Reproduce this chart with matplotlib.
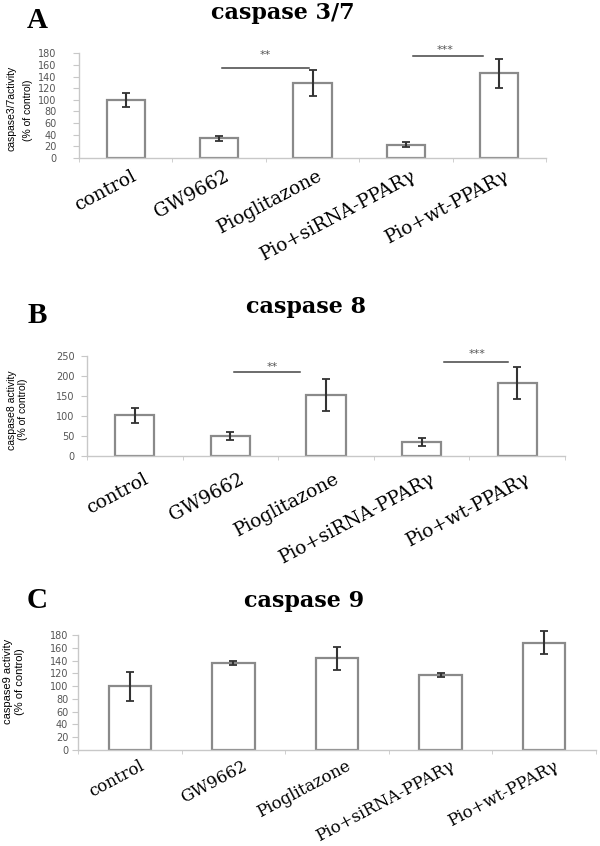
import matplotlib
matplotlib.use("Agg")
import matplotlib.pyplot as plt
import matplotlib.transforms as mtransforms
import numpy as np

groups = ["control", "GW9662", "Pioglitazone", "Pio+siRNA-PPARγ", "Pio+wt-PPARγ"]

# caspase 3/7
casp37_mean = [100, 34, 129, 23, 146]
casp37_err = [12, 4, 22, 4, 25]
casp37_ticks = [0, 20, 40, 60, 80, 100, 120, 140, 160, 180]

# caspase 8
casp8_mean = [101, 49, 153, 35, 181]
casp8_err = [19, 10, 40, 10, 40]
casp8_ticks = [0, 50, 100, 150, 200, 250]

# caspase 9
casp9_mean = [100, 136, 144, 118, 168]
casp9_err = [23, 3, 18, 3, 18]
casp9_ticks = [0, 20, 40, 60, 80, 100, 120, 140, 160, 180]

# significance bars: (x start, x end, line y, star x, star y, label)
casp37_sig = [(1.03, 1.96, 154, 1.49, 177, "**"), (3.08, 3.83, 176, 3.42, 186, "***")]
casp8_sig = [(1.04, 1.73, 210, 1.44, 221, "**"), (3.23, 3.90, 235, 3.58, 254, "***")]

W, H = 600, 846
fig = plt.figure(figsize=(W / 100, H / 100), dpi=100)
serif = ["DejaVu Serif"]
times = ["Liberation Serif", "DejaVu Serif"]
narrow = ["Liberation Sans Narrow", "Liberation Sans", "DejaVu Sans"]


def px_axes(left, right, top, bottom):
    return fig.add_axes([left / W, 1 - bottom / H, (right - left) / W, (bottom - top) / H])


def fig_text(xp, yp, s, **kw):
    fig.text(xp / W, 1 - yp / H, s, **kw)


def draw_panel(ax, means, errs, ticks, sig, label_shift, label_size, ypad):
    x = np.arange(len(groups))
    ax.bar(x, means, width=0.41, color="white", edgecolor="#8a8a8a", linewidth=1.6, zorder=2)
    eb = ax.errorbar(x, means, yerr=errs, fmt="none", ecolor="#333333", elinewidth=1.5,
                     capsize=3, capthick=1.3, zorder=3)
    for part in eb.lines[1] + eb.lines[2]:
        part.set_clip_on(False)
    ax.set_xlim(-0.5, len(groups) - 0.5)
    ax.set_ylim(ticks[0], ticks[-1])
    ax.set_yticks(ticks)
    ax.tick_params(axis="y", length=4, color="#c8c8c8", labelsize=7, labelcolor="#555555",
                   pad=ypad)
    ax.set_xticks(x)
    ax.set_xticks(np.arange(-0.5, len(groups)), minor=True)
    ax.tick_params(axis="x", which="major", length=0)
    ax.tick_params(axis="x", which="minor", length=3, color="#c8c8c8", direction="out")
    ax.set_xticklabels(groups, rotation=28, ha="right", va="top", rotation_mode="anchor",
                       fontsize=label_size, family=serif)
    offset = mtransforms.ScaledTranslation(label_shift[0] / 100, label_shift[1] / 100,
                                           fig.dpi_scale_trans)
    for lab in ax.get_xticklabels():
        lab.set_transform(lab.get_transform() + offset)
    for s in ["top", "right"]:
        ax.spines[s].set_visible(False)
    for s in ["left", "bottom"]:
        ax.spines[s].set_color("#c8c8c8")
        ax.spines[s].set_linewidth(1.0)
    for x1, x2, y, sx, sy, txt in sig:
        ax.plot([x1, x2], [y, y], color="#444444", lw=1.1, clip_on=False)
        ax.text(sx, sy, txt, ha="center", va="center", fontsize=8, color="#555555",
                clip_on=False)


# panel A
axA = px_axes(79, 546, 53.3, 158)
draw_panel(axA, casp37_mean, casp37_err, casp37_ticks, casp37_sig, (5, -4), 13.5, 12)
fig_text(283, 19, "caspase 3/7", ha="center", va="baseline", fontsize=16,
         fontweight="bold", family=serif)
fig_text(37, 28, "A", ha="center", va="baseline", fontsize=21, fontweight="bold", family=times)
fig_text(11.5, 108, "caspase3/7activity", ha="center", va="center", rotation=90,
         fontsize=7.5, family=narrow)
fig_text(28, 110, "(% of control)", ha="center", va="center", rotation=90,
         fontsize=7.5, family=narrow)

# panel B
axB = px_axes(87, 565, 355.7, 456)
draw_panel(axB, casp8_mean, casp8_err, casp8_ticks, casp8_sig, (8, -9), 13.5, 5)
fig_text(306, 313, "caspase 8", ha="center", va="baseline", fontsize=16,
         fontweight="bold", family=serif)
fig_text(37, 323, "B", ha="center", va="baseline", fontsize=21, fontweight="bold", family=times)
fig_text(11.7, 410, "caspase8 activity", ha="center", va="center", rotation=90,
         fontsize=7.5, family=narrow)
fig_text(22.7, 409, "(% of control)", ha="center", va="center", rotation=90,
         fontsize=7.5, family=narrow)

# panel C
axC = px_axes(78, 596, 635.3, 749.7)
draw_panel(axC, casp9_mean, casp9_err, casp9_ticks, [], (9, -3), 12, 3)
fig_text(304, 607, "caspase 9", ha="center", va="baseline", fontsize=16,
         fontweight="bold", family=serif)
fig_text(37, 608, "C", ha="center", va="baseline", fontsize=21, fontweight="bold", family=times)
fig_text(8.5, 681, "caspase9 activity", ha="center", va="center", rotation=90,
         fontsize=8, family=narrow)
fig_text(20, 682, "(% of control)", ha="center", va="center", rotation=90,
         fontsize=8, family=narrow)

fig.savefig("out.png", dpi=100)
